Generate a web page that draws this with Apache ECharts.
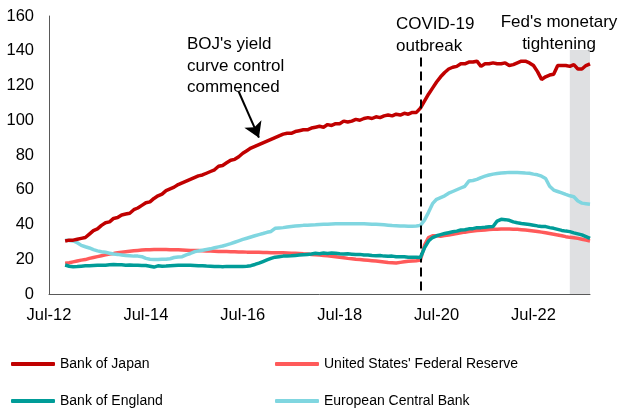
<!DOCTYPE html>
<html>
<head>
<meta charset="utf-8">
<script src="https://cdn.jsdelivr.net/npm/echarts@6/dist/echarts.min.js"></script>
<style>
  html, body { margin: 0; padding: 0; background: #fff; }
  #chart { width: 630px; height: 414px; }
</style>
</head>
<body>
<div id="chart"></div>
<script>
// monthly axis, Jul-12 .. Sep-23
const monthNames = ['Jan', 'Feb', 'Mar', 'Apr', 'May', 'Jun', 'Jul', 'Aug', 'Sep', 'Oct', 'Nov', 'Dec']
const months = []
for (let y = 2012; y <= 2023; y++) {
  for (let m = 0; m < 12; m++) {
    if (y === 2012 && m < 6) continue
    if (y === 2023 && m > 8) continue
    months.push(monthNames[m] + '-' + String(y).slice(2))
  }
}

// series start in Nov-12
const lead = [null, null, null, null]

const bankOfJapan = [
  30.5, 31, 31, 31.5, 32, 32.5, 34.5, 36.5, 37.5, 39.5,
  41, 41.5, 43.5, 44, 45.5, 46, 46.5, 48.5, 49.5, 51,
  52.5, 53, 55, 56.5, 57.5, 59.5, 60.5, 61.5, 63, 64,
  65, 66, 67, 68, 68.5, 69.5, 70.5, 71.5, 73.5, 74,
  75.5, 77, 77.5, 79, 81, 82.5, 84, 85, 86, 87,
  88, 89, 90, 91, 92, 92.5, 92.5, 93.5, 94, 94.5,
  94.5, 95.5, 96, 96.5, 96, 97.5, 97, 98, 98, 99.5,
  99, 99.5, 100.5, 100, 101, 101.5, 101, 102, 101.5, 102.5,
  103, 102.5, 103.5, 103, 104, 103.5, 104.5, 104.5, 107, 111,
  115, 118.5, 122, 125, 127.5, 129.5, 130.5, 131, 132.5, 132.5,
  133.5, 133.5, 134, 131, 132.5, 132.5, 133, 132.5, 132.5, 133,
  131.5, 132, 133, 134, 134, 133, 131.5, 128, 123.5, 125,
  126, 126.5, 131.5, 131.5, 131.5, 131, 132, 129.5, 129.5, 131.5,
  132.5
]

const federalReserve = [
  17.7, 18, 18.5, 19, 19.5, 19.8, 20.5, 21, 21.5, 22,
  22.5, 23, 23.3, 23.7, 24, 24.3, 24.6, 24.9, 25.1, 25.3,
  25.4, 25.5, 25.6, 25.6, 25.6, 25.6, 25.5, 25.4, 25.4, 25.3,
  25.2, 25.1, 25, 25, 24.9, 24.8, 24.7, 24.6, 24.5, 24.4,
  24.4, 24.3, 24.3, 24.2, 24.2, 24.1, 24.1, 24, 24, 23.9,
  23.9, 23.8, 23.8, 23.7, 23.7, 23.6, 23.5, 23.4, 23.3, 23.1,
  23, 22.8, 22.6, 22.4, 22.2, 22, 21.7, 21.4, 21.1, 20.8,
  20.5, 20.3, 20, 19.8, 19.6, 19.4, 19.2, 19, 18.7, 18.4,
  18.1, 18, 17.8, 18.2, 18.5, 18.8, 19, 19.2, 19.5, 28,
  32.5, 33.5, 33.5, 33.3, 33.6, 34, 34.4, 34.8, 35.2, 35.6,
  35.9, 36.2, 36.5, 36.7, 36.9, 37.1, 37.2, 37.3, 37.4, 37.4,
  37.4, 37.3, 37.2, 37, 36.8, 36.6, 36.3, 36, 35.6, 35.2,
  34.8, 34.4, 34, 33.5, 33, 32.6, 32.4, 32, 31.5, 31,
  30.5
]

const bankOfEngland = [
  16.7, 16, 15.7, 15.8, 16, 16.2, 16.3, 16.4, 16.5, 16.6,
  16.6, 16.8, 17, 16.8, 16.8, 16.6, 16.7, 16.5, 16.6, 16.4,
  16.4, 16, 15.5, 16.2, 16, 16.1, 16.3, 16.4, 16.5, 16.6,
  16.5, 16.6, 16.4, 16.2, 16.3, 16.1, 16, 15.8, 15.9, 15.7,
  15.9, 15.8, 15.8, 15.9, 15.8, 16, 16.3, 17, 17.8, 18.7,
  19.6, 20.5, 21.2, 21.5, 21.8, 21.9, 22, 22.2, 22.4, 22.6,
  22.8, 23, 23.4, 23.2, 23.6, 23.3, 23.6, 23.5, 23.2, 23,
  23.1, 22.9, 22.7, 22.8, 22.4, 22.5, 22.2, 22, 22.1, 21.8,
  21.7, 21.8, 21.5, 21.4, 21.5, 21.2, 21.1, 21.2, 21, 26.5,
  30.5, 32.5, 33.5, 34.2, 34.8, 35.3, 35.8, 36.2, 36.8, 37,
  37.5, 37.6, 38.2, 38.2, 38.4, 38.7, 38.8, 42, 43, 42.8,
  42.4, 41.5, 41, 40.6, 40.3, 40, 39.6, 39.2, 38.9, 38.8,
  38.2, 37.8, 37.2, 36.6, 36.2, 35.9, 35.2, 34.6, 34, 33,
  32
]

const europeanCentralBank = [
  31, 30.8, 30.5, 29.5, 28, 27.2, 26.5, 25.5, 24.8, 24.3,
  24, 23.5, 23, 22.8, 22.5, 22.2, 22, 21.8, 21.8, 21.5,
  20.5, 20, 19.8, 19.8, 20, 20, 20.3, 21, 21.3, 21.5,
  22.5, 23.3, 24.3, 24.8, 25.2, 25.6, 26, 26.6, 27.1, 27.6,
  28.3, 29, 29.8, 30.6, 31.4, 32.1, 32.8, 33.5, 34.2, 34.8,
  35.5, 36, 37.8, 38, 38.2, 38.5, 38.8, 39.1, 39.3, 39.5,
  39.6, 39.7, 39.8, 40, 40.1, 40.2, 40.3, 40.4, 40.4, 40.4,
  40.4, 40.5, 40.5, 40.4, 40.4, 40.3, 40.2, 40.1, 40, 39.8,
  39.6, 39.4, 39.3, 39.2, 39.1, 39, 39, 39.1, 39.5, 42.5,
  47, 52, 54.5, 55.5, 56.5, 58, 59, 60, 61, 62,
  65, 65.3, 66, 67, 67.8, 68.5, 69, 69.3, 69.6, 69.8,
  70, 70, 69.9, 69.8, 69.6, 69.5, 69, 68.6, 67.8, 66.5,
  62, 59.8, 59, 58.2, 57.3, 56.5, 56, 53.5, 52.3, 52,
  51.7
]

const yTicks = { min: 0, max: 160, interval: 20 }

const font = 'Liberation Sans, Arial, sans-serif'

const chart = echarts.init(document.getElementById('chart'))

function lineSeries (name, data, color, z) {
  return {
    name: name,
    type: 'line',
    data: lead.concat(data),
    showSymbol: false,
    symbol: 'none',
    z: z,
    lineStyle: { color: color, width: 3.5 },
    itemStyle: { color: color },
    emphasis: { disabled: true }
  }
}

function legendColumn (names, left) {
  return {
    data: names,
    orient: 'vertical',
    left: left,
    top: 356,
    padding: 0,
    height: 60,
    icon: 'roundRect',
    itemWidth: 44,
    itemHeight: 4,
    itemGap: 21,
    selectedMode: false,
    textStyle: { fontSize: 14, lineHeight: 16, color: '#000', fontFamily: font }
  }
}

chart.setOption({
  animation: false,
  textStyle: { fontFamily: font },
  grid: { left: 49, right: 40, top: 16, bottom: 120 },
  legend: [
    legendColumn(['Bank of Japan', 'Bank of England'], 11),
    legendColumn(["United States' Federal Reserve", 'European Central Bank'], 275)
  ],
  xAxis: {
    type: 'category',
    data: months,
    boundaryGap: false,
    axisLine: { lineStyle: { color: '#595959', width: 1 } },
    axisTick: { show: false },
    axisLabel: { interval: 23, color: '#000', fontSize: 16.5, margin: 13, fontFamily: font },
    splitLine: { show: false }
  },
  yAxis: {
    type: 'value',
    min: yTicks.min,
    max: yTicks.max,
    interval: yTicks.interval,
    axisLine: { show: true, lineStyle: { color: '#595959', width: 1 } },
    axisTick: { show: false },
    axisLabel: { color: '#000', fontSize: 16.5, margin: 15, fontFamily: font },
    splitLine: { show: false }
  },
  series: [
    lineSeries('Bank of Japan', bankOfJapan, '#c00000', 4),
    lineSeries("United States' Federal Reserve", federalReserve, '#ff5a5a', 3),
    lineSeries('European Central Bank', europeanCentralBank, '#80d6e0', 3),
    lineSeries('Bank of England', bankOfEngland, '#009c98', 5),
    {
      name: 'boj-arrow',
      type: 'line',
      data: [],
      silent: true,
      markLine: {
        silent: true,
        symbol: ['none', 'arrow'],
        symbolSize: [14, 15],
        label: { show: false },
        emphasis: { disabled: true },
        lineStyle: { color: '#000', width: 2, type: 'solid' },
        data: [[{ coord: ['Jun-16', 116.4] }, { coord: ['Nov-16', 90] }]]
      }
    },
    {
      name: 'fed-band',
      type: 'line',
      data: [],
      silent: true,
      z: 10,
      markArea: {
        silent: true,
        itemStyle: { color: 'rgba(212, 213, 216, 0.75)' },
        emphasis: { disabled: true },
        data: [[{ coord: ['Apr-23', 0] }, { coord: ['Sep-23', 140.5] }]]
      }
    },
    {
      name: 'covid',
      type: 'line',
      data: [],
      silent: true,
      z: 11,
      markLine: {
        silent: true,
        symbol: ['none', 'none'],
        label: { show: false },
        emphasis: { disabled: true },
        lineStyle: { color: '#000', width: 2, type: [9, 5] },
        data: [[{ coord: ['Mar-20', 2] }, { coord: ['Mar-20', 137.5] }]]
      }
    }
  ],
  graphic: [
    {
      type: 'text',
      left: 187,
      top: 34,
      style: {
        text: "BOJ's yield\ncurve control\ncommenced",
        fontSize: 17,
        lineHeight: 21.5,
        fill: '#000',
        fontFamily: font
      }
    },
    {
      type: 'text',
      left: 396,
      top: 14,
      style: {
        text: 'COVID-19\noutbreak',
        fontSize: 17,
        lineHeight: 21.5,
        fill: '#000',
        fontFamily: font
      }
    },
    {
      type: 'text',
      x: 559,
      y: 12,
      style: {
        text: "Fed's monetary\ntightening",
        fontSize: 17,
        lineHeight: 21.5,
        align: 'center',
        fill: '#000',
        fontFamily: font
      }
    }
  ]
})
</script>
</body>
</html>
